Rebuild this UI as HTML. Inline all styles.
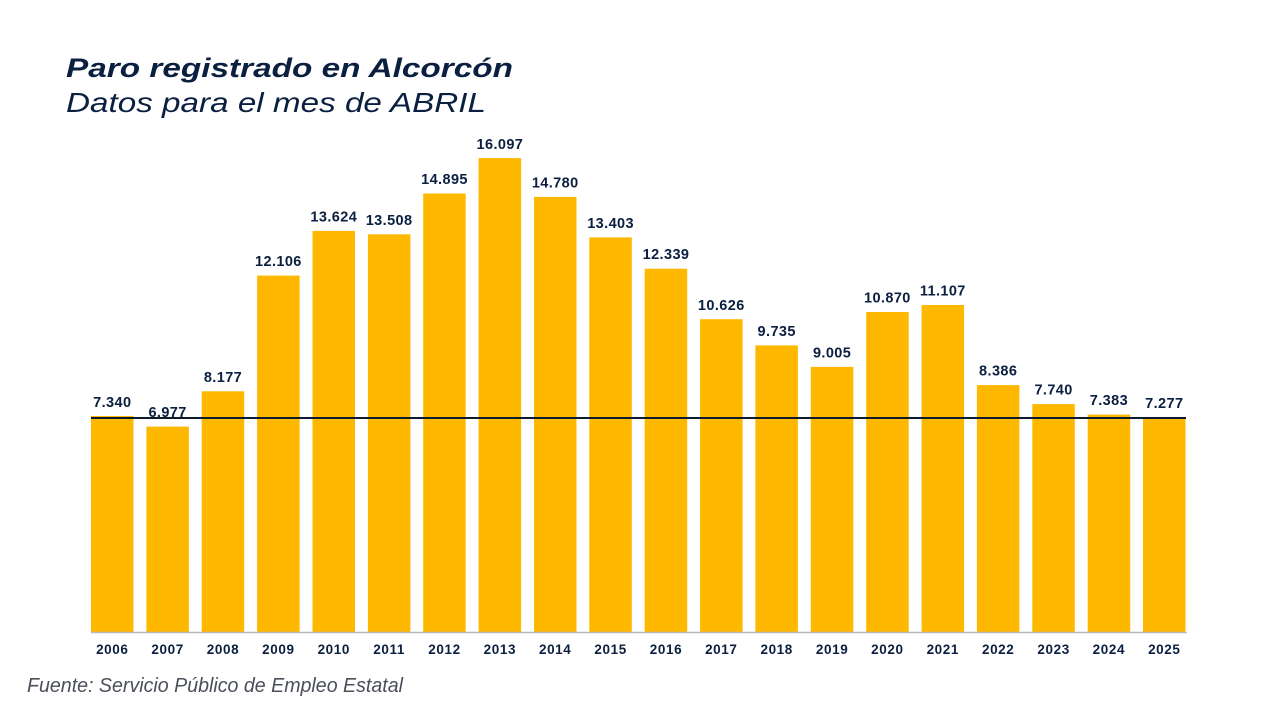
<!DOCTYPE html>
<html>
<head>
<meta charset="utf-8">
<style>
html,body{margin:0;padding:0;background:#fff;}
svg{display:block;}
</style>
</head>
<body>
<svg width="1280" height="720" viewBox="0 0 1280 720" xmlns="http://www.w3.org/2000/svg" font-family="'Liberation Sans', Arial, sans-serif">
<rect width="1280" height="720" fill="#ffffff"/>
<text x="66" y="77" font-size="27" font-weight="bold" font-style="italic" fill="#0b1f40" textLength="447" lengthAdjust="spacingAndGlyphs">Paro registrado en Alcorcón</text>
<text x="66" y="112" font-size="28" font-style="italic" fill="#0b1f40" textLength="420" lengthAdjust="spacingAndGlyphs">Datos para el mes de ABRIL</text>

<g fill="#FFB800">
<rect x="91" y="416" width="42.5" height="216"/>
<rect x="146.4" y="426.6" width="42.5" height="205.4"/>
<rect x="201.7" y="391.3" width="42.5" height="240.7"/>
<rect x="257.1" y="275.6" width="42.5" height="356.4"/>
<rect x="312.5" y="230.9" width="42.5" height="401.1"/>
<rect x="367.9" y="234.3" width="42.5" height="397.7"/>
<rect x="423.2" y="193.5" width="42.5" height="438.5"/>
<rect x="478.6" y="158.1" width="42.5" height="473.9"/>
<rect x="534.0" y="196.9" width="42.5" height="435.1"/>
<rect x="589.3" y="237.4" width="42.5" height="394.6"/>
<rect x="644.7" y="268.7" width="42.5" height="363.3"/>
<rect x="700.1" y="319.2" width="42.5" height="312.8"/>
<rect x="755.4" y="345.4" width="42.5" height="286.6"/>
<rect x="810.8" y="366.9" width="42.5" height="265.1"/>
<rect x="866.2" y="312.0" width="42.5" height="320.0"/>
<rect x="921.6" y="305.0" width="42.5" height="327.0"/>
<rect x="976.9" y="385.1" width="42.5" height="246.9"/>
<rect x="1032.3" y="404.1" width="42.5" height="227.9"/>
<rect x="1087.7" y="414.6" width="42.5" height="217.4"/>
<rect x="1143.0" y="417.8" width="42.5" height="214.2"/>
</g>

<line x1="91" y1="632.5" x2="1187" y2="632.5" stroke="#b8b8b8" stroke-width="1.5"/>
<line x1="91" y1="418" x2="1186" y2="418" stroke="#0d1a2d" stroke-width="2"/>

<g font-size="14.5" font-weight="bold" fill="#0b1f40" text-anchor="middle" letter-spacing="0.4">
<text x="112.3" y="407">7.340</text>
<text x="167.6" y="417">6.977</text>
<text x="223.0" y="382">8.177</text>
<text x="278.4" y="266">12.106</text>
<text x="333.8" y="221.5">13.624</text>
<text x="389.1" y="225">13.508</text>
<text x="444.5" y="184">14.895</text>
<text x="499.9" y="149">16.097</text>
<text x="555.2" y="187.5">14.780</text>
<text x="610.6" y="228">13.403</text>
<text x="666.0" y="259">12.339</text>
<text x="721.3" y="310">10.626</text>
<text x="776.7" y="336">9.735</text>
<text x="832.1" y="357.5">9.005</text>
<text x="887.4" y="302.5">10.870</text>
<text x="942.8" y="295.5">11.107</text>
<text x="998.2" y="375.5">8.386</text>
<text x="1053.6" y="394.5">7.740</text>
<text x="1108.9" y="405">7.383</text>
<text x="1164.3" y="408">7.277</text>
</g>

<g font-size="13.5" font-weight="bold" fill="#0b1f40" text-anchor="middle" letter-spacing="0.6">
<text x="112.3" y="654">2006</text>
<text x="167.6" y="654">2007</text>
<text x="223.0" y="654">2008</text>
<text x="278.4" y="654">2009</text>
<text x="333.8" y="654">2010</text>
<text x="389.1" y="654">2011</text>
<text x="444.5" y="654">2012</text>
<text x="499.9" y="654">2013</text>
<text x="555.2" y="654">2014</text>
<text x="610.6" y="654">2015</text>
<text x="666.0" y="654">2016</text>
<text x="721.3" y="654">2017</text>
<text x="776.7" y="654">2018</text>
<text x="832.1" y="654">2019</text>
<text x="887.4" y="654">2020</text>
<text x="942.8" y="654">2021</text>
<text x="998.2" y="654">2022</text>
<text x="1053.6" y="654">2023</text>
<text x="1108.9" y="654">2024</text>
<text x="1164.3" y="654">2025</text>
</g>

<text x="27" y="692" font-size="20" font-style="italic" fill="#4a4f5a" textLength="376" lengthAdjust="spacingAndGlyphs">Fuente: Servicio Público de Empleo Estatal</text>
</svg>
</body>
</html>
